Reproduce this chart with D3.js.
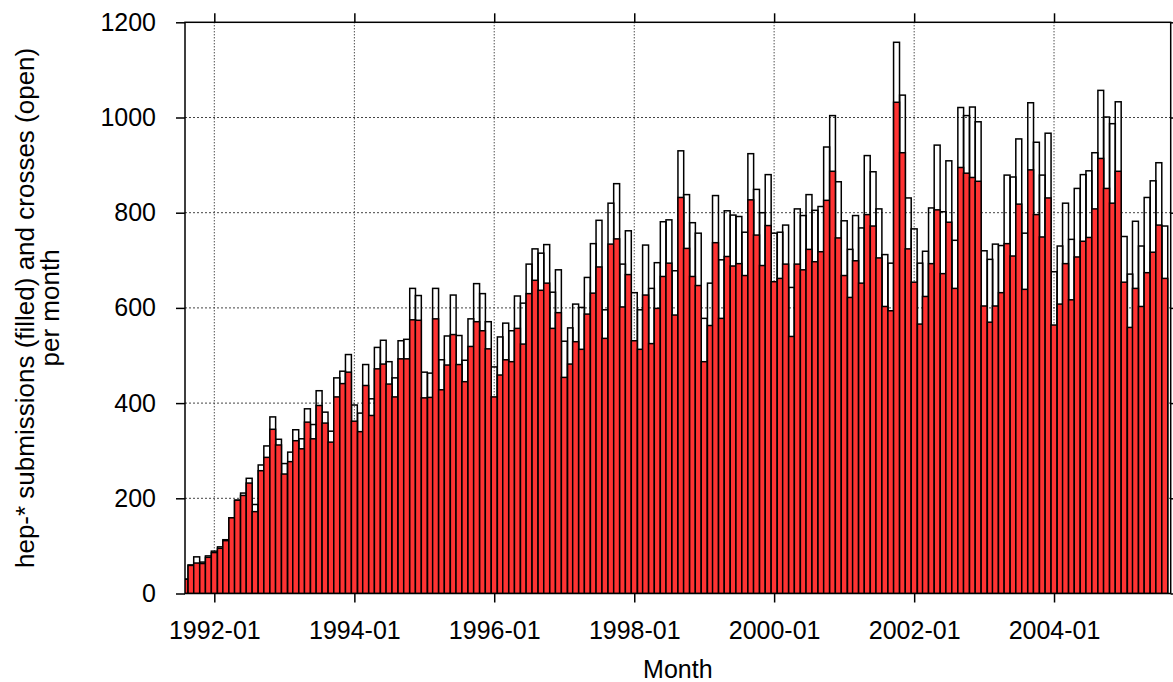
<!DOCTYPE html>
<html>
<head>
<meta charset="utf-8">
<script src="https://cdn.jsdelivr.net/npm/d3@7"></script>
<style>
  body { margin: 0; background: #fff; }
  svg text { font-family: "Liberation Sans", Arial, Helvetica, sans-serif; fill: #000; }
</style>
</head>
<body>
<div id="chart"></div>
<script>
// hep-* submissions per month, first month 1991-08, last 2005-08
let first_month = "1991-08",
    last_month = "2005-08"

// submissions (filled bars)
let submissions = [
    30, 59, 64, 63, 76, 86, 95, 111, 159, 196, 206, 232, 172, 258, 286, 345, 312, 251, 277, 321,
    304, 360, 325, 395, 358, 318, 413, 441, 465, 362, 340, 437, 374, 472, 482, 440, 413, 493, 493, 575,
    574, 411, 412, 577, 428, 480, 544, 481, 445, 519, 571, 552, 514, 413, 459, 491, 487, 557, 524, 630,
    658, 637, 652, 557, 590, 454, 482, 529, 513, 587, 631, 686, 536, 734, 745, 602, 670, 531, 513, 627,
    525, 599, 666, 694, 585, 832, 725, 666, 647, 487, 563, 737, 578, 708, 688, 693, 668, 827, 753, 689,
    773, 655, 662, 692, 540, 692, 680, 723, 697, 718, 826, 887, 747, 668, 622, 699, 652, 796, 772, 705,
    603, 594, 1032, 926, 724, 654, 566, 624, 693, 806, 672, 780, 641, 895, 883, 874, 866, 604, 570, 604,
    632, 735, 709, 818, 639, 890, 796, 749, 831, 564, 608, 693, 617, 707, 740, 748, 808, 914, 851, 820,
    887, 654, 559, 641, 603, 674, 717, 774, 662
]

// submissions + crosses (open bars)
let totals = [
    30, 60, 77, 66, 79, 89, 98, 113, 159, 196, 211, 242, 187, 270, 310, 371, 324, 273, 297, 344,
    325, 388, 355, 426, 381, 341, 453, 467, 502, 396, 379, 481, 409, 517, 532, 487, 453, 531, 534, 641,
    626, 465, 463, 641, 491, 541, 627, 542, 490, 577, 651, 630, 571, 476, 539, 568, 552, 625, 610, 692,
    724, 715, 733, 633, 680, 530, 558, 608, 601, 664, 735, 784, 596, 820, 861, 692, 762, 632, 596, 732,
    641, 695, 781, 785, 678, 930, 838, 779, 757, 578, 652, 836, 701, 804, 795, 792, 759, 924, 849, 800,
    880, 757, 759, 774, 643, 808, 794, 838, 805, 813, 938, 1004, 865, 783, 723, 794, 768, 920, 886, 808,
    712, 694, 1158, 1047, 831, 766, 694, 719, 810, 942, 802, 909, 742, 1021, 1004, 1022, 991, 720, 702, 734,
    731, 879, 875, 955, 757, 1031, 948, 879, 967, 676, 730, 820, 744, 851, 880, 888, 926, 1057, 1001, 987,
    1033, 750, 671, 782, 730, 832, 867, 905, 772
]

let x_tick_labels = ["1992-01", "1994-01", "1996-01", "1998-01", "2000-01", "2002-01", "2004-01"]
let y_ticks = [0, 200, 400, 600, 800, 1000, 1200]

let width = 1173,
    height = 682,
    plot = { left: 185, right: 1170.7, top: 22.3, bottom: 593.5 },
    tick_len = 9,
    font_size = 25,
    bar_stroke = 1.5

let parse_month = d3.utcParse("%Y-%m")
let start = parse_month(first_month),
    end = d3.utcMonth.offset(parse_month(last_month), 1)
let months = d3.utcMonth.range(start, end)

let data = months.map(function (m, i) {
    return { month: m, sub: submissions[i], total: totals[i] }
})

let x = d3.scaleUtc()
    .domain([start, end])
    .range([plot.left, plot.right])

let y = d3.scaleLinear()
    .domain([0, 1200])
    .range([plot.bottom, plot.top])

let svg = d3.select("#chart")
    .append("svg")
    .attr("width", width)
    .attr("height", height)

svg.append("defs").append("clipPath")
    .attr("id", "plot_clip")
    .append("rect")
    .attr("x", plot.left)
    .attr("y", plot.top)
    .attr("width", plot.right - plot.left)
    .attr("height", plot.bottom - plot.top)

// grid
let grid = svg.append("g").attr("class", "grid")
grid.selectAll(".vgrid")
    .data(x_tick_labels)
    .enter()
    .append("line")
    .attr("class", "vgrid")
    .attr("x1", d => x(parse_month(d)))
    .attr("x2", d => x(parse_month(d)))
    .attr("y1", plot.top)
    .attr("y2", plot.bottom)
    .attr("stroke", "#000")
    .attr("stroke-width", 1)
    .attr("stroke-dasharray", "1,2")
grid.selectAll(".hgrid")
    .data(y_ticks.slice(1, -1))
    .enter()
    .append("line")
    .attr("class", "hgrid")
    .attr("x1", plot.left)
    .attr("x2", plot.right)
    .attr("y1", d => y(d))
    .attr("y2", d => y(d))
    .attr("stroke", "#444")
    .attr("stroke-width", 1)
    .attr("stroke-dasharray", "2,2")

// bars, centred on the first day of each month
function bar_w(d) {
    return x(d3.utcMonth.offset(d.month, 1)) - x(d.month)
}
function bar_x(d) {
    return x(d.month) - bar_w(d) / 2
}

let bars = svg.append("g").attr("clip-path", "url(#plot_clip)")

bars.selectAll(".open_bar")
    .data(data)
    .enter()
    .append("rect")
    .attr("class", "open_bar")
    .attr("x", bar_x)
    .attr("width", bar_w)
    .attr("y", d => y(d.total))
    .attr("height", d => y(0) - y(d.total))
    .attr("fill", "none")
    .attr("stroke", "#000")
    .attr("stroke-width", bar_stroke)

bars.selectAll(".filled_bar")
    .data(data)
    .enter()
    .append("rect")
    .attr("class", "filled_bar")
    .attr("x", bar_x)
    .attr("width", bar_w)
    .attr("y", d => y(d.sub))
    .attr("height", d => y(0) - y(d.sub))
    .attr("fill", "#ff3333")
    .attr("stroke", "#000")
    .attr("stroke-width", bar_stroke)

// frame
svg.append("rect")
    .attr("x", plot.left)
    .attr("y", plot.top)
    .attr("width", plot.right - plot.left)
    .attr("height", plot.bottom - plot.top)
    .attr("fill", "none")
    .attr("stroke", "#000")
    .attr("stroke-width", 1.5)

// axes (ticks outward, mirrored)
let x_ticks = x_tick_labels.map(parse_month)
let x_axis = d3.axisBottom(x)
    .tickValues(x_ticks)
    .tickFormat(d3.utcFormat("%Y-%m"))
    .tickSize(tick_len)
    .tickPadding(19)
let x_axis_top = d3.axisTop(x)
    .tickValues(x_ticks)
    .tickFormat("")
    .tickSize(tick_len)
let y_axis = d3.axisLeft(y)
    .tickValues(y_ticks)
    .tickFormat(d3.format("d"))
    .tickSize(tick_len)
    .tickPadding(20)
let y_axis_right = d3.axisRight(y)
    .tickValues(y_ticks)
    .tickFormat("")
    .tickSize(tick_len)

function style_axis(g) {
    g.select(".domain").remove()
    g.selectAll(".tick line").attr("stroke", "#000").attr("stroke-width", 1.5)
    g.selectAll(".tick text")
        .style("font-size", font_size + "px")
        .attr("fill", "#000")
}

svg.append("g")
    .attr("transform", "translate(0," + plot.bottom + ")")
    .call(x_axis)
    .call(style_axis)
svg.append("g")
    .attr("transform", "translate(0," + plot.top + ")")
    .call(x_axis_top)
    .call(style_axis)
svg.append("g")
    .attr("transform", "translate(" + plot.left + ",0)")
    .call(y_axis)
    .call(style_axis)
svg.append("g")
    .attr("transform", "translate(" + plot.right + ",0)")
    .call(y_axis_right)
    .call(style_axis)

// axis titles
svg.append("text")
    .attr("x", (plot.left + plot.right) / 2)
    .attr("y", 678)
    .attr("text-anchor", "middle")
    .style("font-size", font_size + "px")
    .text("Month")

let y_mid = (plot.top + plot.bottom) / 2
let y_title = svg.append("text")
    .attr("transform", "translate(0," + y_mid + ") rotate(-90)")
    .attr("text-anchor", "middle")
    .style("font-size", "26px")
y_title.append("tspan").attr("x", 0).attr("y", 34).text("hep-* submissions (filled) and crosses (open)")
y_title.append("tspan").attr("x", 0).attr("y", 59).text("per month")
</script>
</body>
</html>
